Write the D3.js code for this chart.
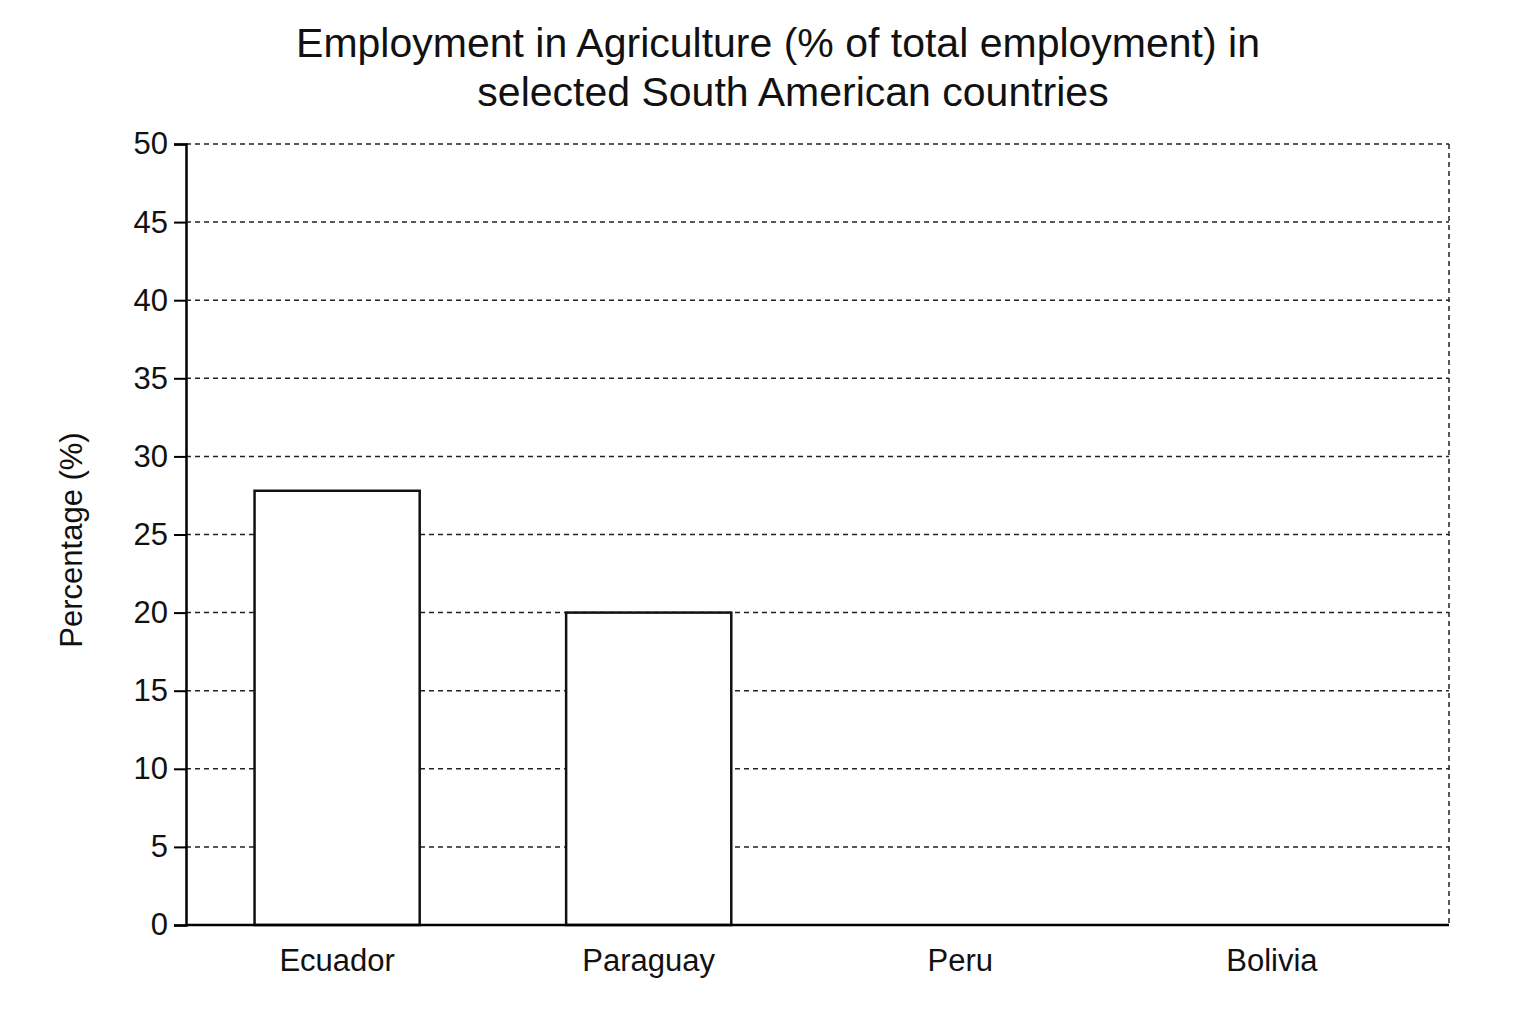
<!DOCTYPE html>
<html><head><meta charset="utf-8">
<script src="https://cdn.jsdelivr.net/npm/d3@7"></script>
<style>body{margin:0;background:#fff}text{font-family:"Liberation Sans Narrow","Liberation Sans",Arial,sans-serif;fill:#111}</style>
</head><body><svg id="c" width="1536" height="1024"></svg>
<script>
const categories=["Ecuador","Paraguay","Peru","Bolivia"];
const values=[27.8,20,0,0];
const yTicks=[0,5,10,15,20,25,30,35,40,45,50];
const svg=d3.select("#c");
const m={l:186,r:1449,t:144,b:925};
const x=d3.scaleBand().domain(categories).range([m.l,1423]).paddingInner(0.47).paddingOuter(0.22);
const y=d3.scaleLinear().domain([0,50]).range([m.b,m.t]);
svg.append("g").selectAll("line").data(yTicks.filter(d=>d>0)).join("line")
 .attr("x1",m.l).attr("x2",m.r).attr("y1",d=>y(d)).attr("y2",d=>y(d))
 .attr("stroke","#222").attr("stroke-width",1.5).attr("stroke-dasharray","5,4");
svg.append("line").attr("x1",m.r).attr("x2",m.r).attr("y1",m.t).attr("y2",m.b)
 .attr("stroke","#222").attr("stroke-width",1.5).attr("stroke-dasharray","5,4");
svg.append("g").selectAll("rect").data(categories.map((c,i)=>({c,v:values[i]})).filter(d=>d.v>0)).join("rect")
 .attr("x",d=>x(d.c)).attr("width",x.bandwidth()).attr("y",d=>y(d.v)).attr("height",d=>y(0)-y(d.v))
 .attr("fill","#fff").attr("stroke","#111").attr("stroke-width",2.5);
const ya=svg.append("g").attr("transform",`translate(${m.l},0)`).call(d3.axisLeft(y).tickValues(yTicks).tickSize(12).tickPadding(6));
ya.selectAll("text").style("font-size","31px");
ya.select(".domain").attr("stroke-width",2.5);
ya.selectAll(".tick line").attr("stroke-width",2);
const xa=svg.append("g").attr("transform",`translate(0,${m.b})`).call(d3.axisBottom(x).tickSize(0).tickPadding(24));
xa.selectAll("text").style("font-size","31px");
xa.select(".domain").attr("stroke-width",2.5).attr("d",`M${m.l},0H${m.r}`);
svg.append("text").attr("transform","translate(82,540) rotate(-90)").attr("text-anchor","middle").style("font-size","31px").text("Percentage (%)");
svg.append("text").attr("x",778).attr("y",57).attr("text-anchor","middle").style("font-size","41px").text("Employment in Agriculture (% of total employment) in");
svg.append("text").attr("x",793).attr("y",106).attr("text-anchor","middle").style("font-size","41px").text("selected South American countries");
</script></body></html>
